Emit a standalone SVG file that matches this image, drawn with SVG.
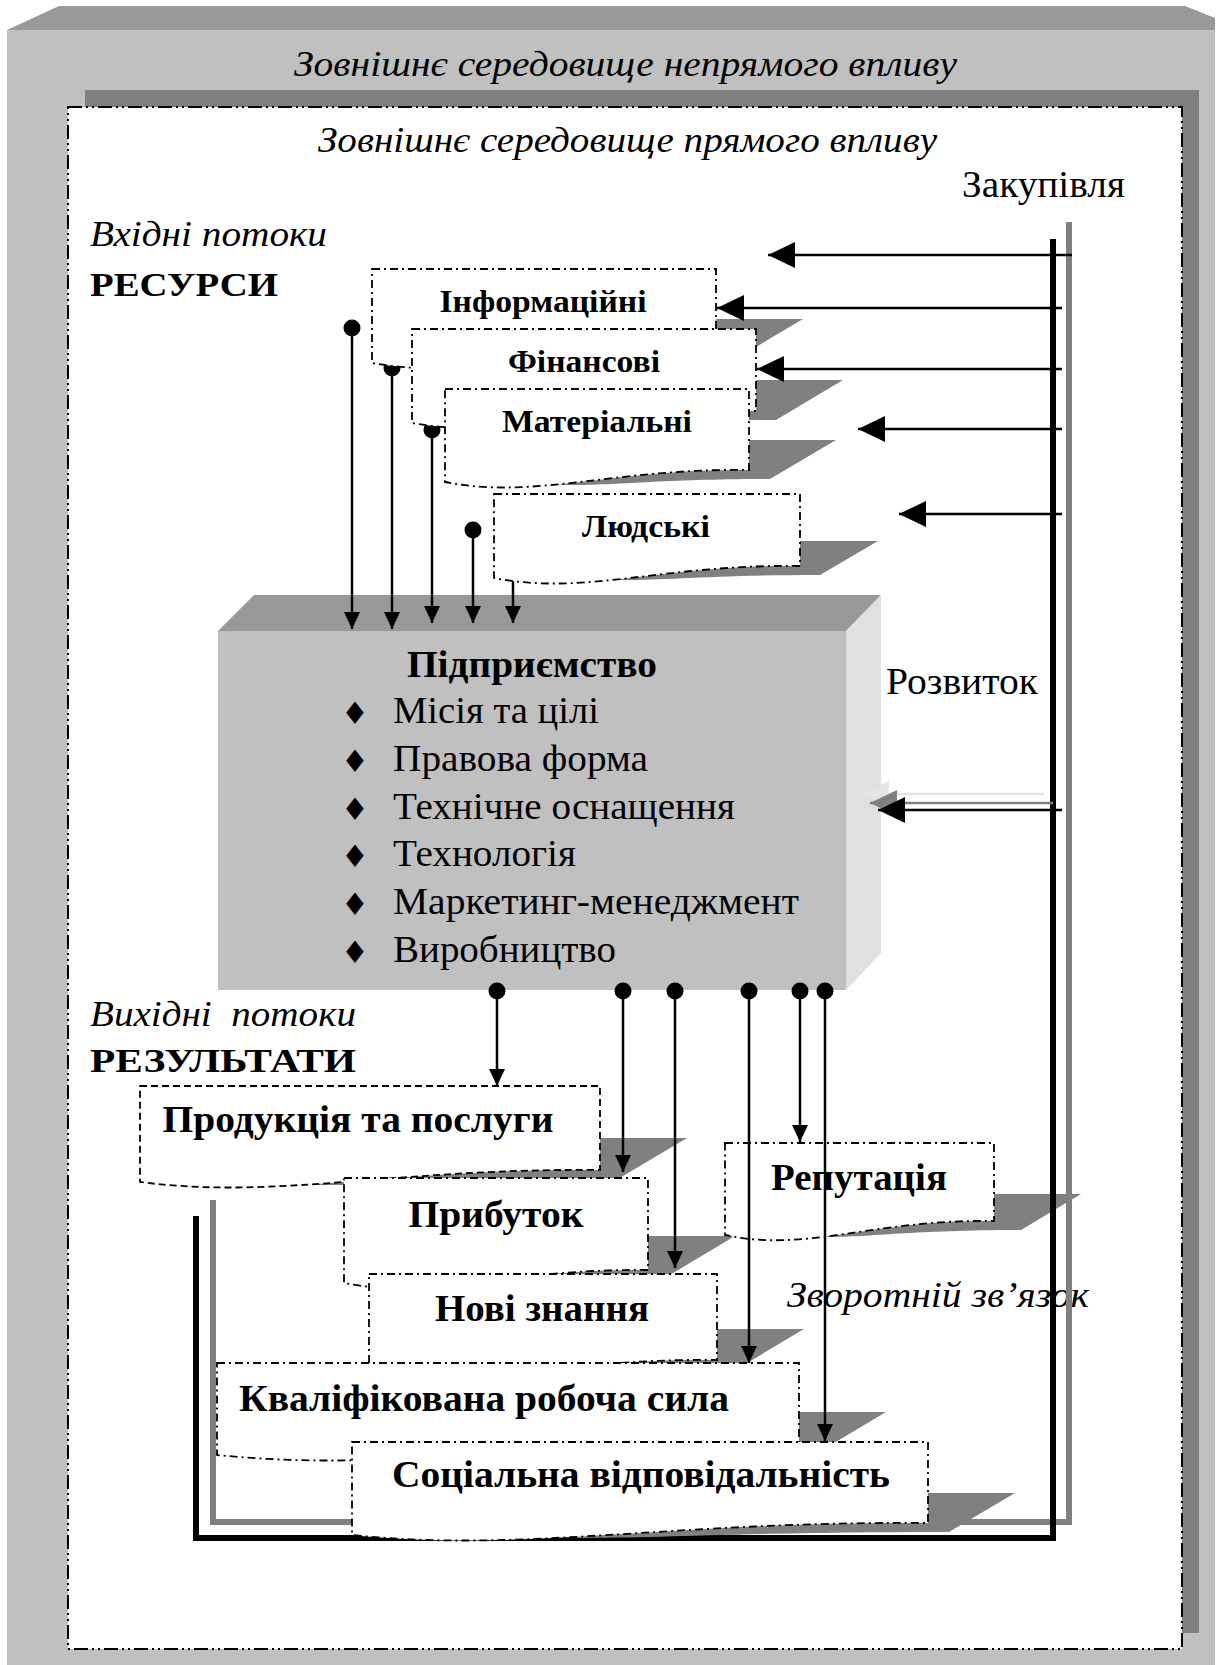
<svg xmlns="http://www.w3.org/2000/svg" width="1224" height="1665" viewBox="0 0 1224 1665">
  <style>
    .serif { font-family: "Liberation Serif", "Times New Roman", serif; fill: #000; }
    .it { font-style: italic; }
    .b { font-weight: bold; }
    .mid { text-anchor: middle; }
    .box { fill: #fff; stroke: #000; stroke-width: 1.8; stroke-dasharray: 8 4 2 4; }
    .box.dash { stroke-dasharray: 7 4; }
    .shadow { fill: #808080; }
    .wire { fill: none; stroke: #000; stroke-width: 2.5; }
    .bullet { font-family: "DejaVu Sans", sans-serif; font-size: 31px; text-anchor: middle; }
  </style>
  <defs>
    <marker id="headS" markerUnits="userSpaceOnUse" viewBox="0 0 17 16" refX="17" refY="8" markerWidth="17" markerHeight="16" orient="auto">
      <path d="M0,0 L17,8 L0,16 Z" fill="#000"/>
    </marker>
    <marker id="headL" markerUnits="userSpaceOnUse" viewBox="0 0 27 26" refX="27" refY="13" markerWidth="27" markerHeight="26" orient="auto">
      <path d="M0,0 L27,13 L0,26 Z" fill="#000"/>
    </marker>
    <marker id="headLgray" markerUnits="userSpaceOnUse" viewBox="0 0 27 26" refX="27" refY="13" markerWidth="27" markerHeight="26" orient="auto">
      <path d="M0,0 L27,13 L0,26 Z" fill="#808080"/>
    </marker>
    <marker id="headLlight" markerUnits="userSpaceOnUse" viewBox="0 0 27 26" refX="27" refY="13" markerWidth="27" markerHeight="26" orient="auto">
      <path d="M0,0 L27,13 L0,26 Z" fill="#e4e4e4"/>
    </marker>
    <marker id="dot" markerUnits="userSpaceOnUse" viewBox="0 0 18 18" refX="9" refY="9" markerWidth="18" markerHeight="18">
      <circle cx="9" cy="9" r="8.5" fill="#000"/>
    </marker>
  </defs>

  <!-- outer environment: raised grey slab -->
  <g id="indirect-environment">
    <rect x="7" y="30" width="1208" height="1635" fill="#c0c0c0"/>
    <polygon points="7,30 59,6 1185,6 1215,18 1215,30" fill="#999999"/>
    <text class="serif it" x="294" y="76" font-size="35" textLength="663" lengthAdjust="spacingAndGlyphs">Зовнішнє середовище непрямого впливу</text>
  </g>

  <!-- inner environment: white panel with drop shadow -->
  <g id="direct-environment">
    <rect x="85" y="90" width="1114" height="1543" fill="#808080"/>
    <rect x="68" y="107" width="1114" height="1542" fill="#fff" stroke="#000" stroke-width="2" stroke-dasharray="14 4 2 4 2 4"/>
    <text class="serif it" x="318" y="152" font-size="35" textLength="619" lengthAdjust="spacingAndGlyphs">Зовнішнє середовище прямого впливу</text>
  </g>

  <g id="labels">
    <text class="serif" x="962" y="197" font-size="38" textLength="163" lengthAdjust="spacingAndGlyphs">Закупівля</text>
    <text class="serif it" x="90" y="246" font-size="36" textLength="237" lengthAdjust="spacingAndGlyphs">Вхідні потоки</text>
    <text class="serif b" x="90" y="296" font-size="33" textLength="188" lengthAdjust="spacingAndGlyphs">РЕСУРСИ</text>
    <text class="serif" x="886" y="694" font-size="38" textLength="152" lengthAdjust="spacingAndGlyphs">Розвиток</text>
    <text class="serif it" x="90" y="1026" font-size="36" textLength="266" lengthAdjust="spacingAndGlyphs" xml:space="preserve">Вихідні  потоки</text>
    <text class="serif b" x="90" y="1072" font-size="33" textLength="266" lengthAdjust="spacingAndGlyphs">РЕЗУЛЬТАТИ</text>
    <text class="serif it" x="787" y="1307" font-size="36" textLength="302" lengthAdjust="spacingAndGlyphs">Зворотній зв’язок</text>
  </g>

  <!-- feedback loop: lower run and left rise, behind the result documents -->
  <g id="connectors-loop">
    <path d="M213,1200 V1522 H1072" fill="none" stroke="#808080" stroke-width="6"/>
    <path d="M196,1216 V1538 H1056" fill="none" stroke="#000" stroke-width="6"/>
  </g>

  <!-- enterprise block -->
  <g id="enterprise">
    <polygon points="218,631 254,595 881,595 846,631" fill="#999999"/>
    <polygon points="846,631 881,595 881,953 846,990" fill="#e0e0e0"/>
    <rect x="218" y="631" width="628" height="359" fill="#c0c0c0"/>
    <text class="serif b mid" x="532" y="677" font-size="37" textLength="250" lengthAdjust="spacingAndGlyphs">Підприємство</text>
    <text class="bullet" x="355" y="724">♦</text>
    <text class="bullet" x="355" y="772">♦</text>
    <text class="bullet" x="355" y="820">♦</text>
    <text class="bullet" x="355" y="867">♦</text>
    <text class="bullet" x="355" y="915">♦</text>
    <text class="bullet" x="355" y="963">♦</text>
    <text class="serif" x="393" y="723" font-size="38" textLength="206" lengthAdjust="spacingAndGlyphs">Місія та цілі</text>
    <text class="serif" x="393" y="771" font-size="38" textLength="255" lengthAdjust="spacingAndGlyphs">Правова форма</text>
    <text class="serif" x="393" y="819" font-size="38" textLength="342" lengthAdjust="spacingAndGlyphs">Технічне оснащення</text>
    <text class="serif" x="393" y="866" font-size="38" textLength="183" lengthAdjust="spacingAndGlyphs">Технологія</text>
    <text class="serif" x="393" y="914" font-size="38" textLength="406" lengthAdjust="spacingAndGlyphs">Маркетинг-менеджмент</text>
    <text class="serif" x="393" y="962" font-size="38" textLength="223" lengthAdjust="spacingAndGlyphs">Виробництво</text>
  </g>

  <!-- resource inflows into the enterprise (drawn under the resource documents) -->
  <g id="connectors-inputs">
    <path class="wire" d="M352,328 V629" marker-start="url(#dot)" marker-end="url(#headS)"/>
    <path class="wire" d="M392,368 V629" marker-start="url(#dot)" marker-end="url(#headS)"/>
    <path class="wire" d="M432,430 V623" marker-start="url(#dot)" marker-end="url(#headS)"/>
    <path class="wire" d="M473,530 V623" marker-start="url(#dot)" marker-end="url(#headS)"/>
    <path class="wire" d="M513,578 V623" marker-end="url(#headS)"/>
  </g>

  <!-- resource documents -->
  <g id="res-info">
    <path class="shadow" d="M714,319 H803 L734,360 C613,360 561,367 503,366 L503,319 Z"/>
    <path class="box" d="M372,269 H716 V351 C561,349 475,381 372,363 Z"/>
    <text class="serif b mid" x="543" y="312" font-size="31" textLength="207" lengthAdjust="spacingAndGlyphs">Інформаційні</text>
  </g>
  <g id="res-finance">
    <path class="shadow" d="M754,380 H843 L776,420 C653,420 601,427 543,426 L543,380 Z"/>
    <path class="box" d="M412,329 H756 V411 C601,409 515,441 412,423 Z"/>
    <text class="serif b mid" x="584" y="372" font-size="31" textLength="152" lengthAdjust="spacingAndGlyphs">Фінансові</text>
  </g>
  <g id="res-material">
    <path class="shadow" d="M747,440 H836 L770,479 C658,479 612,486 561,485 L561,440 Z"/>
    <path class="box" d="M445,389 H749 V470 C612,468 536,500 445,482 Z"/>
    <text class="serif b mid" x="597" y="432" font-size="31" textLength="190" lengthAdjust="spacingAndGlyphs">Матеріальні</text>
  </g>
  <g id="res-human">
    <path class="shadow" d="M798,541 H878 L820,575 C708,575 662,581 610,580 L610,541 Z"/>
    <path class="box" d="M494,494 H800 V566 C662,564 586,596 494,578 Z"/>
    <text class="serif b mid" x="646" y="537" font-size="31" textLength="128" lengthAdjust="spacingAndGlyphs">Людські</text>
  </g>

  <!-- result documents -->
  <g id="out-products">
    <path class="shadow" d="M598,1138 H687 L618,1179 C462,1179 393,1186 315,1185 L315,1138 Z"/>
    <path class="box dash" d="M140,1086 H600 V1170 C393,1168 278,1200 140,1182 Z"/>
    <text class="serif b mid" x="358" y="1132" font-size="37" textLength="391" lengthAdjust="spacingAndGlyphs">Продукція та послуги</text>
  </g>
  <g id="out-profit">
    <path class="shadow" d="M646,1236 H735 L663,1279 C557,1279 511,1286 460,1286 L460,1236 Z"/>
    <path class="box" d="M344,1178 H648 V1270 C511,1268 435,1301 344,1283 Z"/>
    <text class="serif b mid" x="496" y="1227" font-size="37" textLength="175" lengthAdjust="spacingAndGlyphs">Прибуток</text>
  </g>
  <g id="out-knowledge">
    <path class="shadow" d="M715,1329 H804 L737,1369 C613,1369 560,1375 501,1375 L501,1329 Z"/>
    <path class="box" d="M369,1274 H717 V1360 C560,1358 473,1390 369,1372 Z"/>
    <text class="serif b mid" x="542" y="1321" font-size="37" textLength="214" lengthAdjust="spacingAndGlyphs">Нові знання</text>
  </g>
  <g id="out-workforce">
    <path class="shadow" d="M797,1412 H886 L819,1452 C624,1452 537,1458 438,1458 L438,1412 Z"/>
    <path class="box" d="M217,1363 H799 V1443 C537,1441 392,1473 217,1455 Z"/>
    <text class="serif b mid" x="484" y="1411" font-size="37" textLength="490" lengthAdjust="spacingAndGlyphs">Кваліфікована робоча сила</text>
  </g>
  <g id="out-responsibility">
    <path class="shadow" d="M926,1493 H1015 L949,1532 C755,1532 669,1538 571,1538 L571,1493 Z"/>
    <path class="box" d="M352,1442 H928 V1523 C669,1521 525,1553 352,1535 Z"/>
    <text class="serif b mid" x="641" y="1487" font-size="37" textLength="498" lengthAdjust="spacingAndGlyphs">Соціальна відповідальність</text>
  </g>
  <g id="out-reputation">
    <path class="shadow" d="M992,1194 H1081 L1021,1230 C913,1230 873,1237 827,1237 L827,1194 Z"/>
    <path class="box" d="M725,1143 H994 V1221 C873,1219 806,1253 725,1235 Z"/>
    <text class="serif b mid" x="859" y="1190" font-size="37" textLength="176" lengthAdjust="spacingAndGlyphs">Репутація</text>
  </g>

  <!-- purchasing / development feed and result outflows -->
  <g id="connectors">
    <path d="M1069,222 V1525" fill="none" stroke="#808080" stroke-width="6"/>
    <path d="M1053,239 V1541" fill="none" stroke="#000" stroke-width="6"/>

    <path class="wire" d="M1072,255 H768" marker-end="url(#headL)"/>
    <path class="wire" d="M1062,308 H717" marker-end="url(#headL)"/>
    <path class="wire" d="M1062,369 H757" marker-end="url(#headL)"/>
    <path class="wire" d="M1062,429 H858" marker-end="url(#headL)"/>
    <path class="wire" d="M1062,514 H899" marker-end="url(#headL)"/>
    <path d="M1044,794 H862" fill="none" stroke="#e4e4e4" stroke-width="2.5" marker-end="url(#headLlight)"/>
    <path d="M1053,803 H870" fill="none" stroke="#808080" stroke-width="2.5" marker-end="url(#headLgray)"/>
    <path class="wire" d="M1062,810 H878" marker-end="url(#headL)"/>

    <path class="wire" d="M497,991 V1086" marker-start="url(#dot)" marker-end="url(#headS)"/>
    <path class="wire" d="M623,991 V1172" marker-start="url(#dot)" marker-end="url(#headS)"/>
    <path class="wire" d="M675,991 V1268" marker-start="url(#dot)" marker-end="url(#headS)"/>
    <path class="wire" d="M749,991 V1363" marker-start="url(#dot)" marker-end="url(#headS)"/>
    <path class="wire" d="M800,991 V1142" marker-start="url(#dot)" marker-end="url(#headS)"/>
    <path class="wire" d="M825,991 V1441" marker-start="url(#dot)" marker-end="url(#headS)"/>
  </g>
</svg>
